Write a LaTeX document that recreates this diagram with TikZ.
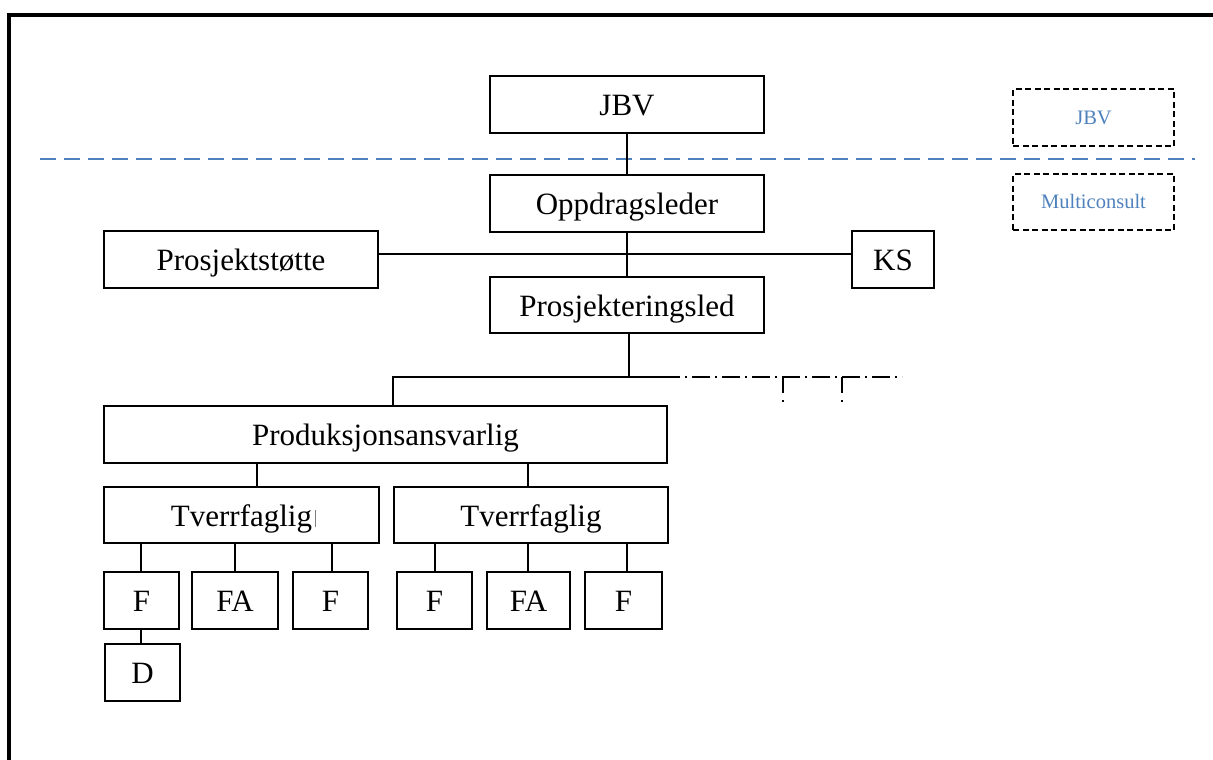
\documentclass[tikz,border=0pt]{standalone}
\usepackage{fontspec}
\setmainfont{Liberation Serif}
\usetikzlibrary{calc}
\definecolor{mcblue}{HTML}{4F81BD}
\tikzset{
  orgbox/.style={draw, line width=1.8pt, inner sep=0pt, minimum height=57pt,
    text height=25pt, text depth=3pt,
    font=\fontsize{31}{36}\selectfont},
  legendbox/.style={draw, line width=1.8pt, dash pattern=on 6pt off 3.5pt,
    inner sep=0pt, minimum width=161pt, minimum height=57pt,
    text height=16pt, text depth=3pt,
    text=mcblue, font=\fontsize{20.5}{24}\selectfont},
  link/.style={line width=1.9pt},
  dashdotlink/.style={line width=1.5pt, dash pattern=on 18pt off 5pt on 2pt off 5pt, dash phase=18pt},
  dropline/.style={line width=1.5pt, dash pattern=on 16pt off 7pt on 2pt off 10pt},
  border/.style={line width=3.5pt},
  split/.style={line width=2pt, mcblue, dash pattern=on 16pt off 8pt}
}
\begin{document}
\begin{tikzpicture}[x=1pt,y=-1pt]
\useasboundingbox (0,0) rectangle (1213,760);

% outer frame (top and left edges)
\draw[border] (9,760) -- (9,15) -- (1213,15);

% separating line between client and consultant
\coordinate (splitL) at (40,159);
\coordinate (splitR) at (1195,159);
\draw[split] (splitL) -- (splitR);

% legend
\node[legendbox] (legJBV) at (1093.5,117.5) {JBV};
\node[legendbox, minimum height=56pt] (legMC) at (1093.5,202) {Multiconsult};

% organisation boxes
\node[orgbox, minimum width=274pt] (jbv) at (627,104.5) {JBV};
\node[orgbox, minimum width=274pt] (opp) at (627,203.5) {Oppdragsleder};
\node[orgbox, minimum width=274pt] (pst) at (241,259.5) {Prosjektstøtte};
\node[orgbox, minimum width=82pt] (ks) at (893,259.5) {KS};
\node[orgbox, minimum width=274pt, minimum height=56pt] (pled) at (627,305) {Prosjekteringsled};
\node[orgbox, minimum width=563pt] (prod) at (385.5,434.5) {Produksjonsansvarlig};
\node[orgbox, minimum width=275pt, minimum height=56pt] (tv1) at (241.5,515) {Tverrfaglig};
\node[orgbox, minimum width=274pt, minimum height=56pt] (tv2) at (531,515) {Tverrfaglig};
\node[orgbox, minimum width=75pt] (f1) at (141.5,600.5) {F};
\node[orgbox, minimum width=86pt] (fa1) at (235,600.5) {FA};
\node[orgbox, minimum width=75pt] (f2) at (330.5,600.5) {F};
\node[orgbox, minimum width=75pt] (f3) at (434.5,600.5) {F};
\node[orgbox, minimum width=83pt] (fa2) at (528.5,600.5) {FA};
\node[orgbox, minimum width=77pt] (f4) at (623.5,600.5) {F};
\node[orgbox, minimum width=75pt] (d) at (142.5,672.5) {D};

% text cursor after the left Tverrfaglig
\draw[gray, line width=1pt] ($(tv1.center)+(74,-5)$) -- ($(tv1.center)+(74,12)$);

% connectors
\draw[link] (jbv.south) -- (opp.north);
\draw[link] (opp.south) -- (pled.north);
\draw[link] ([yshift=5.5pt]pst.east) -- ([yshift=5.5pt]ks.west);

\coordinate (hub) at (629,377);
\coordinate (hubR) at (680,377);
\coordinate (dashEnd) at (902,377);
\coordinate (drop1) at (783,377);
\coordinate (drop2) at (842,377);
\draw[link] ([xshift=2pt]pled.south) -- (hub) -| ([xshift=7.5pt]prod.north);
\draw[link] (hub) -- (hubR);
\draw[dashdotlink] (hubR) -- (dashEnd);
\draw[dropline] (drop1) -- ++(0,26);
\draw[dropline] (drop2) -- ++(0,26);

\draw[link] ([xshift=15.5pt]tv1.north) -- ([xshift=15.5pt]tv1.north |- prod.south);
\draw[link] ([xshift=-3pt]tv2.north) -- ([xshift=-3pt]tv2.north |- prod.south);

\draw[link] ([xshift=-0.5pt]f1.north) -- ([xshift=-0.5pt]f1.north |- tv1.south);
\draw[link] (fa1.north) -- (fa1.north |- tv1.south);
\draw[link] ([xshift=1.5pt]f2.north) -- ([xshift=1.5pt]f2.north |- tv1.south);
\draw[link] ([xshift=0.5pt]f3.north) -- ([xshift=0.5pt]f3.north |- tv2.south);
\draw[link] ([xshift=-0.5pt]fa2.north) -- ([xshift=-0.5pt]fa2.north |- tv2.south);
\draw[link] ([xshift=3.5pt]f4.north) -- ([xshift=3.5pt]f4.north |- tv2.south);

\draw[link] ([xshift=-0.5pt]f1.south) -- ([xshift=-0.5pt]f1.south |- d.north);
\end{tikzpicture}
\end{document}
